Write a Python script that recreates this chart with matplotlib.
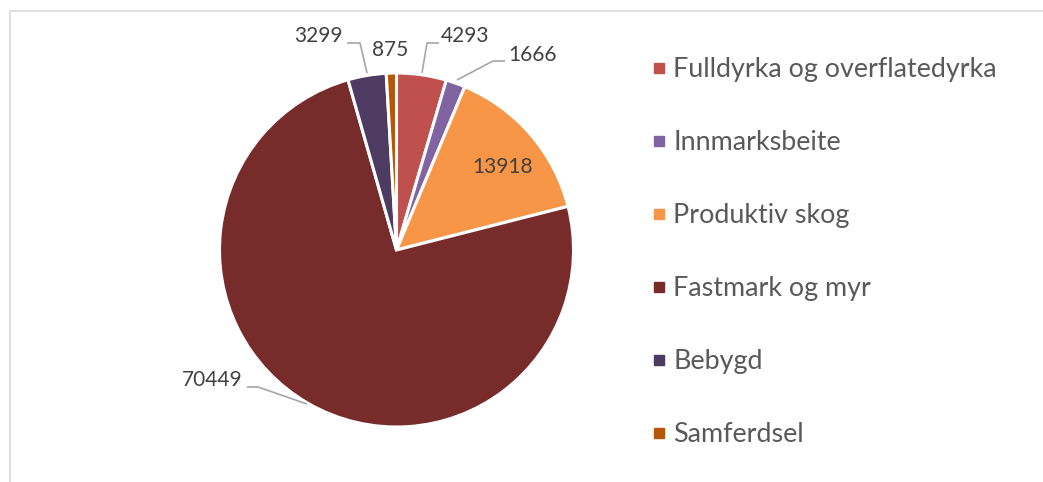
import matplotlib.pyplot as plt
from matplotlib.lines import Line2D
from matplotlib.patches import Rectangle

# land use areas
categories = [
    "Fulldyrka og overflatedyrka",
    "Innmarksbeite",
    "Produktiv skog",
    "Fastmark og myr",
    "Bebygd",
    "Samferdsel",
]
values = [4293, 1666, 13918, 70449, 3299, 875]
colors = ["#C0504D", "#8064A2", "#F79646", "#772B2A", "#4D3B62", "#B65708"]

W, H = 1043, 482
TEXT = "#404040"
LEADER = "#A6A6A6"


def img(x, y):
    # image pixel (from top) -> axes data coords
    return x, H - y


def main():
    plt.rcParams["font.family"] = ["Lato", "DejaVu Sans"]
    fig = plt.figure(figsize=(W / 100, H / 100), dpi=100)
    ax = fig.add_axes([0, 0, 1, 1])

    wedges, _ = ax.pie(
        values,
        colors=colors,
        startangle=90,
        counterclock=False,
        center=img(396.5, 250),
        radius=177,
        wedgeprops={"edgecolor": "white", "linewidth": 2.2},
    )
    ax.set_xlim(0, W)
    ax.set_ylim(0, H)
    ax.set_aspect("equal")
    ax.axis("off")

    # chart area border (only top and left visible)
    ax.add_patch(Rectangle(img(9.5, 490), 1100, 479, fill=False, edgecolor="#D9D9D9", lw=1.2))

    # data labels, Excel-style placement
    label_pos = [(465, 36), (533, 55), (503, 167), (212, 380), (318, 36), (390, 50)]
    for v, (x, y) in zip(values, label_pos):
        ax.text(*img(x, y), str(v), ha="center", va="center", fontsize=15, color=TEXT)

    leaders = [
        [(422, 73), (427, 43), (439, 43)],
        [(457, 80), (493, 61), (505, 61)],
        [(307, 404), (258, 387), (247, 387)],
        [(367, 73), (360, 43), (347, 43)],
    ]
    for pts in leaders:
        xs = [p[0] for p in pts]
        ys = [H - p[1] for p in pts]
        ax.plot(xs, ys, color=LEADER, lw=1.2, solid_capstyle="butt")

    handles = [
        Line2D([], [], marker="s", linestyle="none", markersize=7.5, markerfacecolor=c, markeredgecolor=c)
        for c in colors
    ]
    ax.legend(
        handles,
        categories,
        loc="upper left",
        bbox_to_anchor=(639 / W, 1 - 44 / H),
        frameon=False,
        fontsize=19.4,
        labelcolor="#595959",
        handlelength=0.5,
        handletextpad=0.28,
        labelspacing=1.78,
        borderpad=0,
    )

    fig.savefig("out.png", dpi=100, facecolor="white")
    plt.close(fig)


if __name__ == "__main__":
    main()
